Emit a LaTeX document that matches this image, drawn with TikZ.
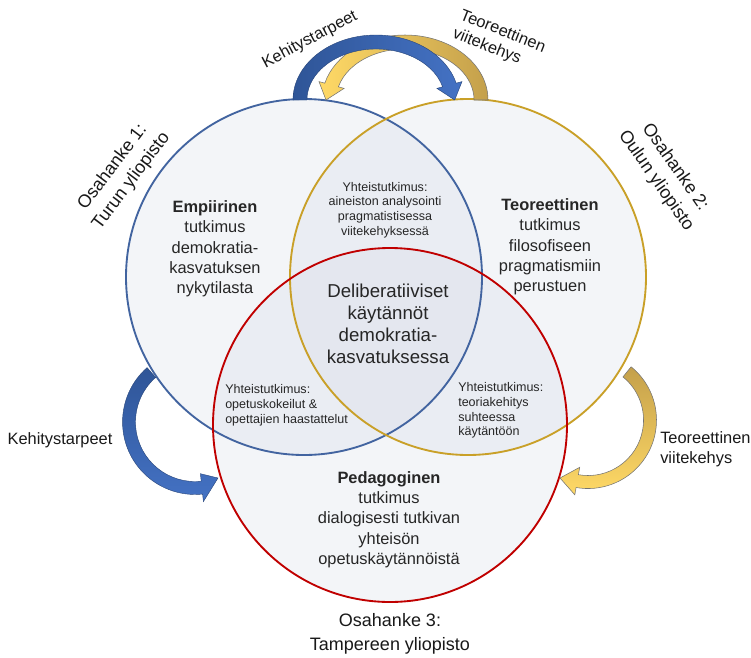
\documentclass[tikz,border=0pt]{standalone}
\usepackage{fontspec}
\setmainfont{Liberation Sans}
\definecolor{cblue}{RGB}{66,100,160}
\definecolor{cgold}{RGB}{201,160,40}
\definecolor{cred}{RGB}{192,0,0}
\definecolor{cfill}{RGB}{212,217,230}
\definecolor{txt}{RGB}{38,38,38}
\definecolor{ablueD}{RGB}{47,85,151}
\definecolor{ablueL}{RGB}{68,114,196}
\definecolor{agoldD}{RGB}{196,160,75}
\definecolor{agoldL}{RGB}{255,217,102}
\begin{document}
\begin{tikzpicture}[x=0.75pt,y=-0.75pt,
  ring/.style={line width=1.4pt},
  disc/.style={fill=cfill, fill opacity=0.26},
  maintext/.style={text=txt, align=center, inner sep=0pt, font=\fontsize{12.3}{15.2}\selectfont},
  smalltext/.style={text=txt, inner sep=0pt, font=\fontsize{9.4}{11.1}\selectfont},
  coretext/.style={text=txt, align=center, inner sep=0pt, font=\fontsize{14}{16.4}\selectfont},
  lbl/.style={text=black!90, inner sep=0pt, font=\fontsize{12.3}{14.8}\selectfont},
  osa/.style={text=black!90, align=center, inner sep=0pt, font=\fontsize{13.5}{17.5}\selectfont},
  goldarrow/.style={draw=black!55, line width=0.4pt},
  bluearrow/.style={draw=ablueD!80!black, line width=0.3pt}]
\useasboundingbox (0,0) rectangle (751,658);
\fill[white] (0,0) rectangle (751,658);

% circle fills
\fill[disc] (304,277) circle[radius=178];
\fill[disc] (468,277) circle[radius=178];
\fill[disc] (390,425) circle[radius=177];
% circle outlines
\draw[ring, cblue] (304,277) circle[radius=178];
\draw[ring, cgold] (468,277) circle[radius=178];
\draw[ring, cred] (390,425) circle[radius=177];

% top gold arrow (behind)
\path[goldarrow, left color=agoldL, right color=agoldD]
  (488,100) arc[start angle=0, end angle=-165, x radius=83, y radius=65]
  -- (319,81.6) -- (326,100) -- (344.1,88.4) -- (338.4,86.8)
  arc[start angle=-165, end angle=0, x radius=69, y radius=51] -- cycle;
% top blue arrow
\path[bluearrow, left color=ablueD, right color=ablueL]
  (293,100) arc[start angle=180, end angle=345, x radius=83, y radius=65]
  -- (462,81.6) -- (454.7,100) -- (436.9,88.4) -- (442.6,86.8)
  arc[start angle=345, end angle=180, x radius=69, y radius=51] -- cycle;
% left blue arrow
\path[bluearrow, top color=ablueD, bottom color=ablueL]
  (147.1,367.6) arc[start angle=228.6, end angle=84, radius=72.5]
  -- (203.4,501.6) -- (218,478) -- (200.4,473.7) -- (201.2,481.2)
  arc[start angle=84, end angle=228.6, radius=59.5] -- cycle;
% right gold arrow
\path[goldarrow, top color=agoldD, bottom color=agoldL]
  (631.1,366.8) arc[start angle=-51, end angle=100, radius=68.5]
  -- (574.8,494.8) -- (560,478) -- (579.7,467.3) -- (578.4,474.7)
  arc[start angle=100, end angle=-51, radius=55.5] -- cycle;

% circle texts
\node[maintext] (emp) at (215,249) {\textbf{Empiirinen}\\tutkimus\\demokratia-\\kasvatuksen\\nykytilasta};
\node[maintext] (teo) at (550,247) {\textbf{Teoreettinen}\\tutkimus\\filosofiseen\\pragmatismiin\\perustuen};
\node[maintext] (ped) at (389,519.5) {\textbf{Pedagoginen}\\tutkimus\\dialogisesti tutkivan\\yhteisön\\opetuskäytännöistä};
\node[coretext] (del) at (388,324) {Deliberatiiviset\\käytännöt\\demokratia-\\kasvatuksessa};
\node[smalltext, align=center] (yta) at (385,210) {Yhteistutkimus:\\aineiston analysointi\\pragmatistisessa\\viitekehyksessä};
\node[smalltext, align=left, anchor=west] (ytb) at (225,405) {Yhteistutkimus:\\opetuskokeilut \&\\opettajien haastattelut};
\node[smalltext, align=left, anchor=west] (ytc) at (458,410.5) {Yhteistutkimus:\\teoriakehitys\\suhteessa\\käytäntöön};

% arrow labels
\node[lbl] (kleft) at (60,440) {Kehitystarpeet};
\node[lbl, align=left, anchor=west] (tright) at (660,449.5) {Teoreettinen\\viitekehys};
\node[lbl, rotate=28] (ktop) at (310,40) {Kehitystarpeet};
\node[lbl, rotate=-21.6, align=left] (ttop) at (499,41) {Teoreettinen\\viitekehys};

% project labels
\node[osa, rotate=53] (osa1) at (122,174) {Osahanke 1:\\Turun yliopisto};
\node[osa, rotate=-55] (osa2) at (665.5,174) {Osahanke 2:\\Oulun yliopisto};
\node[osa] (osa3) at (390,634) {Osahanke 3:\\Tampereen yliopisto};
\end{tikzpicture}
\end{document}
